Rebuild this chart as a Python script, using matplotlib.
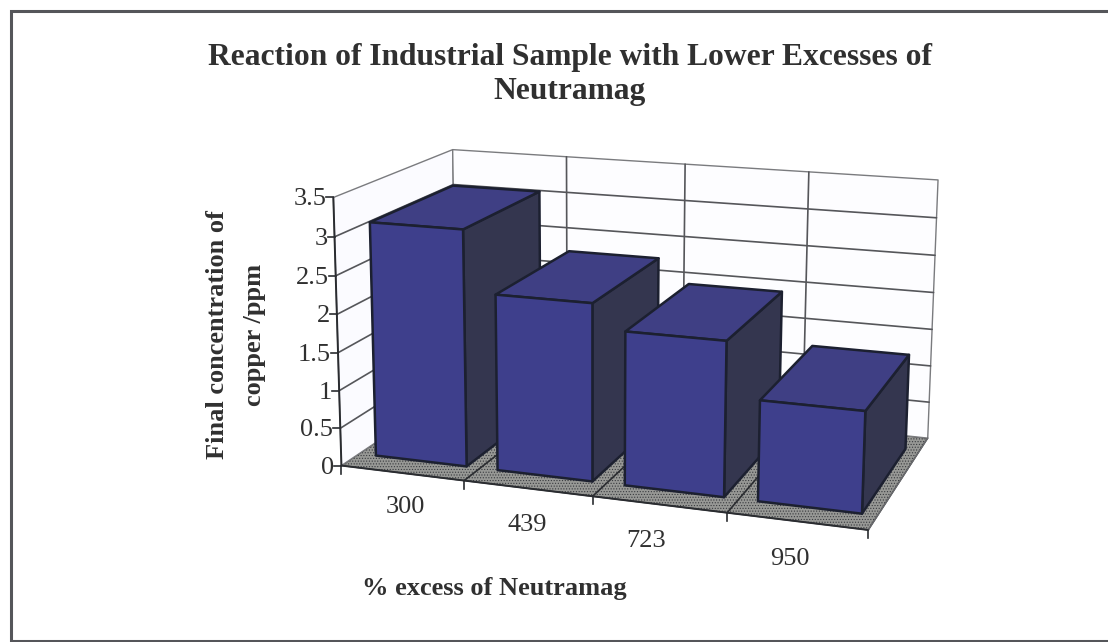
import numpy as np
import matplotlib
matplotlib.use("Agg")
import matplotlib.pyplot as plt
from matplotlib.patches import Polygon, Rectangle

categories = ["300", "439", "723", "950"]
copper_ppm = [3.1, 2.3, 1.98, 1.28]
y_ticks = [0, 0.5, 1, 1.5, 2, 2.5, 3, 3.5]
y_tick_labels = ["0", "0.5", "1", "1.5", "2", "2.5", "3", "3.5"]
title_lines = ["Reaction of Industrial Sample with Lower Excesses of", "Neutramag"]
x_title = "% excess of Neutramag"
y_title_lines = ["Final concentration of", "copper /ppm"]

Y_MAX = 3.5
BAR_LEFT, BAR_RIGHT = 0.14, 0.89   # bar extent within one category
DEPTH_FRONT, DEPTH_BACK = 0.14, 0.85
LABEL_DX = [3, 0, -13, -7]         # hand placement of the category labels, pixels
LABEL_DY = [34, 37, 37, 38]

# Perspective camera: unit-cube corners -> figure pixels, fitted by least squares
cube = np.array([(0,0,0),(1,0,0),(0,1,0),(1,1,0),(0,0,1),(0,1,1),(1,1,1)], float)
screen = np.array([(342,466),(868,530),(456,388),(928,438),(333,197),(453,150),(938,180)], float)
rows, rhs = [], []
for (X, Y, Z), (u, v) in zip(cube, screen):
    rows.append([X, Y, Z, 1, 0, 0, 0, 0, -u*X, -u*Y, -u*Z]); rhs.append(u)
    rows.append([0, 0, 0, 0, X, Y, Z, 1, -v*X, -v*Y, -v*Z]); rhs.append(v)
sol = np.linalg.lstsq(np.array(rows), np.array(rhs), rcond=None)[0]
H = np.append(sol, 1.0).reshape(3, 4)

def project(cat, depth, value):
    """category position (0..n), depth (0..1), value (y units) -> pixels"""
    p = H @ np.array([cat / len(categories), depth, value / Y_MAX, 1.0])
    return p[0] / p[2], p[1] / p[2]

plt.rcParams["font.family"] = ["Liberation Serif", "DejaVu Serif"]
plt.rcParams["hatch.linewidth"] = 0.5
plt.rcParams["hatch.color"] = "#c4c5c2"
fig = plt.figure(figsize=(11.08, 6.42), dpi=100, facecolor="white")
ax = fig.add_axes([0, 0, 1, 1])
ax.set_xlim(0, 1108)
ax.set_ylim(642, 0)
ax.axis("off")

n = len(categories)
GRID = "#55565a"
EDGE = "#1c2030"
TEXT = "#303030"

# outer frame: its right edge runs off the picture
ax.add_patch(Rectangle((11, 11), 1110, 629.5, fc="white", ec="#55565a", lw=2.2, zorder=1))

def face(points, fc, ec=EDGE, lw=1.8, z=3, **kw):
    ax.add_patch(Polygon([project(*p) for p in points], closed=True, fc=fc, ec=ec, lw=lw,
                         joinstyle="round", zorder=z, **kw))

# floor and walls
face([(0,0,0),(n,0,0),(n,1,0),(0,1,0)], "#979895", ec="#3a3c40", lw=1.0, z=2, hatch="......")
face([(0,0,0),(0,1,0),(0,1,Y_MAX),(0,0,Y_MAX)], "#fbfbff", ec="#7a7b7e", lw=1.0, z=2)
face([(0,1,0),(n,1,0),(n,1,Y_MAX),(0,1,Y_MAX)], "#fdfdff", ec="#7a7b7e", lw=1.0, z=2)

def seg(a, b, color=GRID, lw=1.2, z=2.5):
    pa, pb = project(*a), project(*b)
    ax.plot([pa[0], pb[0]], [pa[1], pb[1]], color=color, lw=lw, zorder=z, solid_capstyle="round")

for t in y_ticks[1:-1]:
    seg((0,0,t), (0,1,t))
    seg((0,1,t), (n,1,t))
for i in range(1, n):
    seg((i,1,0), (i,1,Y_MAX))
    seg((i,0,0), (i,1,0), color="#2a2c30")
seg((0,0,0), (n,0,0), color="#2a2c30", lw=1.4)
seg((n,0,0), (n,1,0), color="#6a6b6e", lw=1.0)

# value axis
seg((0,0,0), (0,0,Y_MAX), color="#2a2c30", lw=1.4, z=2.6)
for t, lab in zip(y_ticks, y_tick_labels):
    x, y = project(0, 0, t)
    ax.plot([x - 7, x], [y, y], color="#2a2c30", lw=1.2, zorder=2.6)
    ax.text(x - 7, y + 2, lab, ha="right", va="center", fontsize=19, color=TEXT, zorder=5)

# category axis
for i in range(n + 1):
    x, y = project(i, 0, 0)
    ax.plot([x, x], [y, y + 8], color="#2a2c30", lw=1.2, zorder=2.6)
for i, lab in enumerate(categories):
    x, y = project(i + 0.5, 0, 0)
    ax.text(x + LABEL_DX[i], y + LABEL_DY[i], lab, ha="center", va="center",
            fontsize=19, color=TEXT, zorder=5)

# bars, left to right
FRONT, TOP, SIDE = "#3e3f8c", "#3f3f84", "#34364f"
for i, v in enumerate(copper_ppm):
    x0, x1 = i + BAR_LEFT, i + BAR_RIGHT
    d0, d1 = DEPTH_FRONT, DEPTH_BACK
    face([(x1,d0,0),(x1,d1,0),(x1,d1,v),(x1,d0,v)], SIDE, z=3 + i)
    face([(x0,d0,v),(x1,d0,v),(x1,d1,v),(x0,d1,v)], TOP, z=3 + i)
    face([(x0,d0,0),(x1,d0,0),(x1,d0,v),(x0,d0,v)], FRONT, z=3 + i)

# texts
ax.text(570, 57, title_lines[0], ha="center", va="center", fontsize=22.7, fontweight="bold", color=TEXT)
ax.text(570, 92, title_lines[1], ha="center", va="center", fontsize=22.7, fontweight="bold", color=TEXT)
ax.text(494, 589, x_title, ha="center", va="center", fontsize=19, fontweight="bold", color=TEXT)
ax.text(218, 335, y_title_lines[0], rotation=90, ha="center", va="center", fontsize=19, fontweight="bold", color=TEXT)
ax.text(255, 335, y_title_lines[1], rotation=90, ha="center", va="center", fontsize=19, fontweight="bold", color=TEXT)

fig.savefig("out.png", dpi=100)
